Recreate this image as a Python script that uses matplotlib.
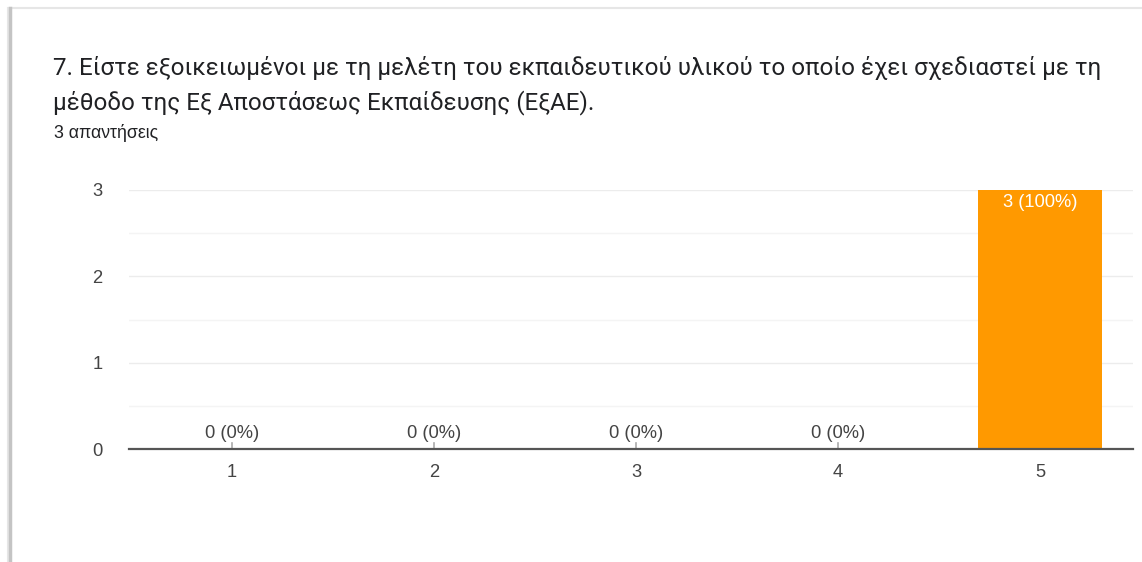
import matplotlib
matplotlib.use("Agg")

import matplotlib.pyplot as plt
from matplotlib.patches import Rectangle

categories = ["1", "2", "3", "4", "5"]
counts = [0, 0, 0, 0, 3]
labels = ["0 (0%)", "0 (0%)", "0 (0%)", "0 (0%)", "3 (100%)"]
yticks = [0, 1, 2, 3]

title = ("7. Είστε εξοικειωμένοι με τη μελέτη του εκπαιδευτικού υλικού το οποίο έχει σχεδιαστεί με τη\n"
         "μέθοδο της Εξ Αποστάσεως Εκπαίδευσης (ΕξΑΕ).")
subtitle = "3 απαντήσεις"

plt.rcParams["font.family"] = ["Roboto", "DejaVu Sans"]
CHART_FONT = ["Liberation Sans", "DejaVu Sans"]

fig = plt.figure(figsize=(11.42, 5.62), dpi=100)
fig.patch.set_facecolor("white")

# card outline with a soft shadow on the left
fig.add_artist(Rectangle((8 / 1142, -0.01), 1.2, 1 - 8 / 562 + 0.01, transform=fig.transFigure,
                         facecolor="none", edgecolor="#e6e6e6", linewidth=1.5))
fig.add_artist(plt.Line2D([9.5 / 1142, 9.5 / 1142], [0, 1 - 8 / 562], transform=fig.transFigure,
                          color="#c4c4c4", linewidth=2.5))

fig.text(53 / 1142, 1 - 56 / 562, title, fontsize=17.4, color="#202124",
         va="top", ha="left", linespacing=1.5)
fig.text(54 / 1142, 1 - 124 / 562, subtitle, fontsize=12.8, color="#202124",
         va="top", ha="left", family=CHART_FONT)

ax = fig.add_axes([129 / 1142, 113 / 562, 1004 / 1142, 259 / 562])
x = list(range(1, len(categories) + 1))
bars = ax.bar(x, counts, width=0.614, color="#ff9900", zorder=3)

ax.set_xlim(0.49, 5.46)
ax.set_ylim(0, 3)
ax.set_yticks(yticks)
ax.set_yticks([0.5, 1.5, 2.5], minor=True)
ax.set_xticks(x)
ax.set_xticklabels(categories)
ax.grid(axis="y", which="major", color="#ececec", linewidth=1, zorder=0)
ax.grid(axis="y", which="minor", color="#f4f4f4", linewidth=1, zorder=0)
ax.tick_params(axis="both", which="both", length=0, labelsize=13.2, colors="#444444")
for lab in ax.get_xticklabels() + ax.get_yticklabels():
    lab.set_family(CHART_FONT)
ax.tick_params(axis="y", pad=19)
ax.tick_params(axis="x", pad=11)
for side in ["top", "right", "left"]:
    ax.spines[side].set_visible(False)
ax.spines["bottom"].set_color("#555555")
ax.spines["bottom"].set_linewidth(1.6)
ax.spines["bottom"].set_zorder(4)

for xi, c, lab in zip(x, counts, labels):
    if c == 0:
        ax.plot([xi, xi], [0, 0.07], color="#aaaaaa", linewidth=1.2, zorder=2)
        ax.text(xi, 0.08, lab, ha="center", va="bottom", fontsize=13.2, color="#444444",
                family=CHART_FONT)
    else:
        ax.text(xi, c - 0.05, lab, ha="center", va="top", fontsize=13.2, color="white",
                zorder=5, family=CHART_FONT)

fig.savefig("out.png", dpi=100)
